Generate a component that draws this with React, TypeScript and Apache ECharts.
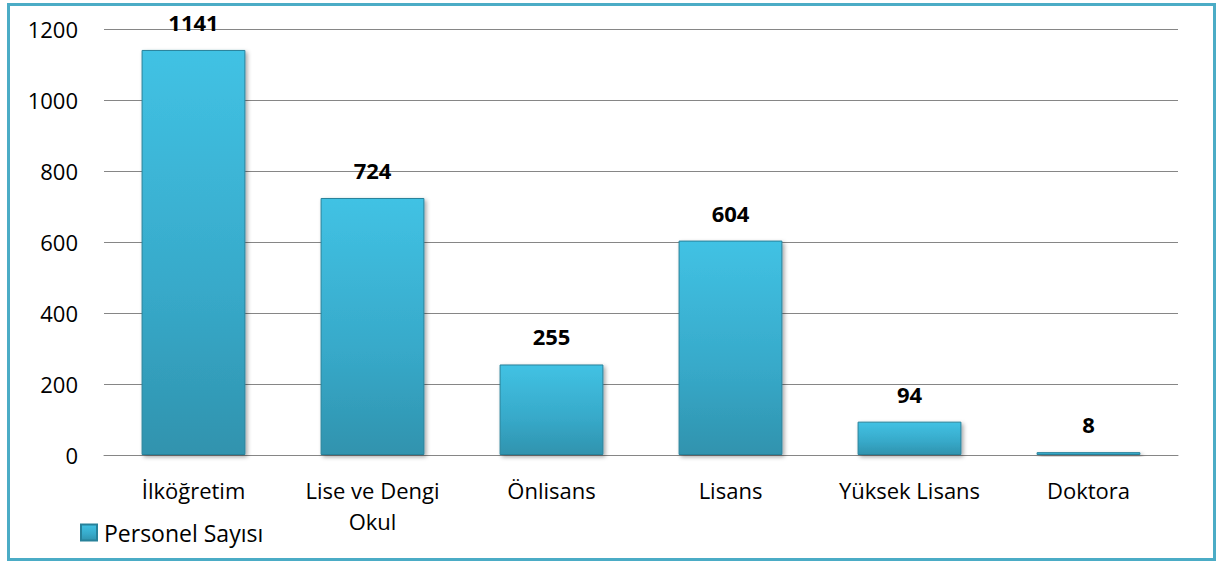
import React, { useEffect, useRef } from "react";
import * as echarts from "echarts";

const categories = ["İlköğretim", "Lise ve Dengi\nOkul", "Önlisans", "Lisans", "Yüksek Lisans", "Doktora"];
const personel = [1141, 724, 255, 604, 94, 8];
const seriesName = "Personel Sayısı";

const FONT = "'Open Sans', 'Noto Sans', sans-serif";

export default function App() {
  const ref = useRef<HTMLDivElement>(null);
  useEffect(() => {
    if (!ref.current) return;
    const chart = echarts.init(ref.current, null, { renderer: "svg" });
    const barColor = new echarts.graphic.LinearGradient(0, 0, 0, 1, [
      { offset: 0, color: "#41C2E4" },
      { offset: 0.6, color: "#37A9C9" },
      { offset: 1, color: "#3093AE" },
    ]);
    chart.setOption({
      animation: false,
      backgroundColor: "#ffffff",
      textStyle: { fontFamily: FONT },
      graphic: [
        {
          type: "rect",
          shape: { x: 8.5, y: 4.5, width: 1206, height: 555 },
          style: { fill: "none", stroke: "#4BACC6", lineWidth: 3 },
          silent: true,
        },
      ],
      legend: {
        left: 75,
        top: 516,
        itemWidth: 16,
        itemHeight: 16,
        itemGap: 4,
        textStyle: { fontSize: 23, color: "#000", fontFamily: FONT, padding: [0, 0, 0, 2] },
        data: [{ name: seriesName, icon: "rect" }],
      },
      grid: { left: 104, right: 40, top: 29, bottom: 107, containLabel: false },
      xAxis: {
        type: "category",
        data: categories,
        axisLine: { lineStyle: { color: "#868686", width: 1 } },
        axisTick: { show: false },
        axisLabel: { fontSize: 22, color: "#000", margin: 19, lineHeight: 31, fontFamily: FONT, interval: 0 },
      },
      yAxis: {
        type: "value",
        min: 0,
        max: 1200,
        interval: 200,
        axisLine: { show: false },
        axisTick: { show: false },
        splitLine: { lineStyle: { color: "#868686", width: 1 } },
        axisLabel: { fontSize: 22, color: "#000", margin: 26, fontFamily: FONT, formatter: (v: number) => String(v) },
      },
      series: [
        {
          name: seriesName,
          type: "bar",
          data: personel,
          barWidth: "58%",
          itemStyle: {
            color: barColor,
            borderColor: "#27819A",
            borderWidth: 1,
            shadowColor: "rgba(0,0,0,0.35)",
            shadowBlur: 4,
            shadowOffsetX: 2,
            shadowOffsetY: 2,
          },
          label: {
            show: true,
            position: "top",
            distance: 17,
            fontSize: 22,
            fontWeight: "bold",
            color: "#000",
            fontFamily: FONT,
          },
        },
      ],
    });
    return () => chart.dispose();
  }, []);
  return (
    <div
      ref={ref}
      style={{ position: "fixed", left: 0, top: 0, width: 1218, height: 562 }}
    />
  );
}
